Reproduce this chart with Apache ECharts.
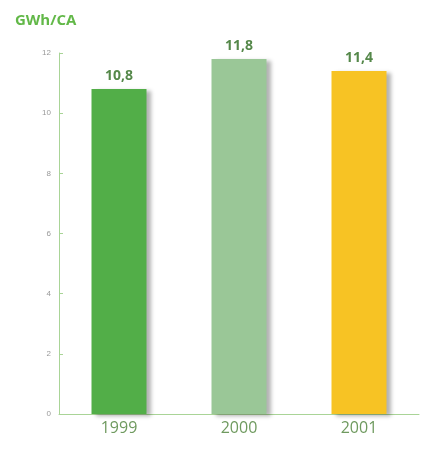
<!DOCTYPE html>
<html><head><meta charset="utf-8">
<script src="https://cdn.jsdelivr.net/npm/echarts@6/dist/echarts.min.js"></script>
<style>html,body{margin:0;padding:0;background:#fff}#c{width:425px;height:450px}</style>
</head><body><div id="c"></div>
<script>
const categories = ['1999', '2000', '2001'];
const values = [10.8, 11.8, 11.4];
const barColors = ['#52ae48', '#9ac797', '#f7c324'];
const yTicks = [0, 2, 4, 6, 8, 10, 12];

const chart = echarts.init(document.getElementById('c'));
chart.setOption({
  animation: false,
  title: {
    text: 'GWh/CA', left: 10, top: 8,
    textStyle: { color: '#62b848', fontSize: 15, fontWeight: 'bold', fontFamily: 'Open Sans' }
  },
  grid: { left: 59, right: 6, top: 53, bottom: 36 },
  xAxis: {
    type: 'category', data: categories,
    axisLine: { lineStyle: { color: '#a9d497', width: 1 } },
    axisTick: { show: false },
    axisLabel: { color: '#6f9a5f', fontSize: 16, margin: 6, fontFamily: 'Open Sans' }
  },
  yAxis: {
    type: 'value', min: 0, max: 12, interval: 2,
    axisLine: { show: true, lineStyle: { color: '#a9d497', width: 1 } },
    axisTick: { show: true, inside: true, length: 4, lineStyle: { color: '#a9d497' } },
    splitLine: { show: false },
    axisLabel: { color: '#999', fontSize: 8, margin: 8, formatter: v => yTicks.includes(v) ? String(v) : '' }
  },
  series: [{
    type: 'bar', barWidth: 55,
    data: values.map((v, i) => ({ value: v, itemStyle: { color: barColors[i] } })),
    itemStyle: { shadowColor: 'rgba(0,0,0,0.3)', shadowBlur: 4, shadowOffsetX: 4, shadowOffsetY: 2 },
    label: {
      show: true, position: 'top', distance: 6,
      formatter: p => String(p.value).replace('.', ','),
      color: '#55884a', fontSize: 14, fontWeight: 'bold', fontFamily: 'Open Sans'
    }
  }]
});
</script></body></html>
